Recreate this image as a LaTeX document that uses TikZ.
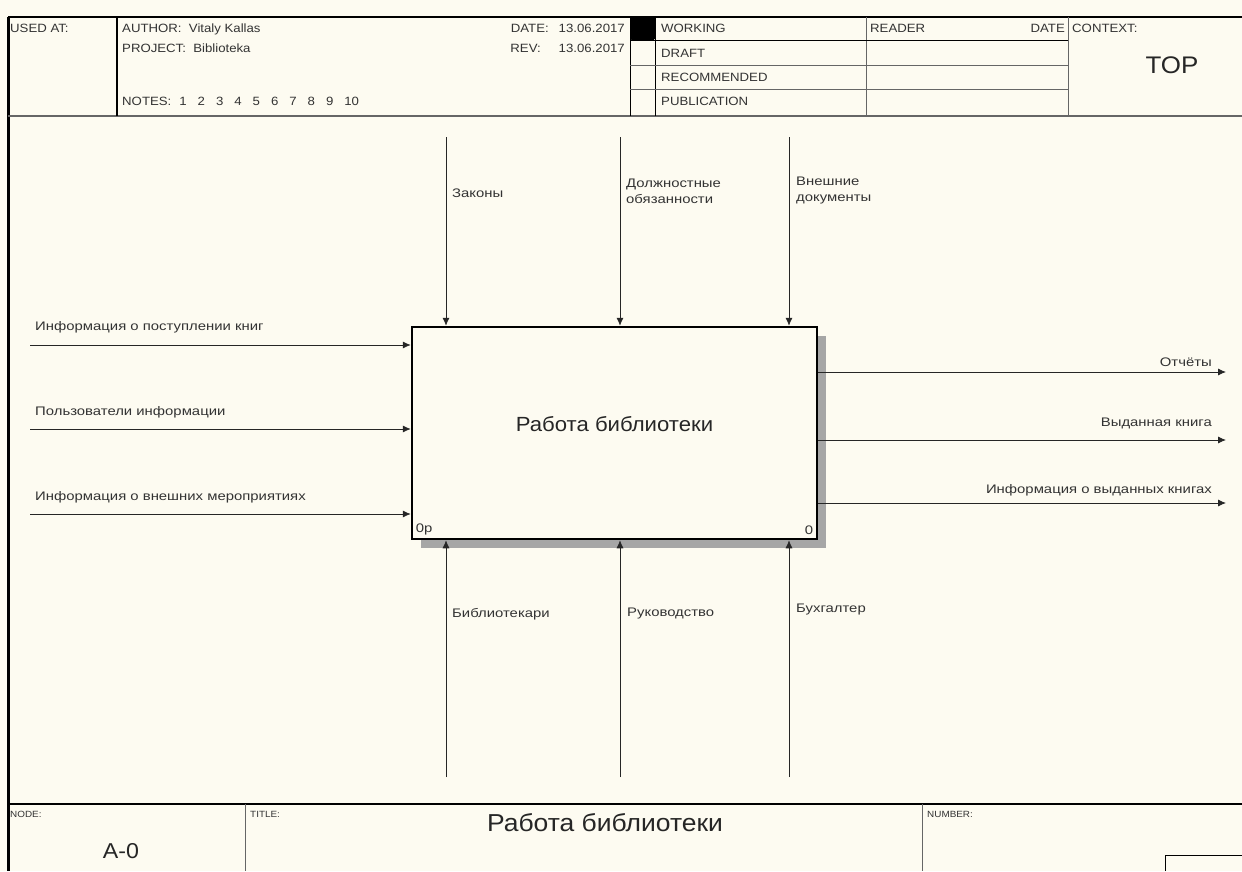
\documentclass[tikz,border=0pt]{standalone}
\usepackage{fontspec}
\setmainfont{Liberation Sans}
\newfontfamily\lblfont[FakeStretch=1.2]{Liberation Sans}
\newfontfamily\hdrfont[FakeStretch=1.1]{Liberation Sans}
\newfontfamily\bigfont[FakeStretch=1.08]{Liberation Sans}
\definecolor{colorPaper}{RGB}{253,251,241}
\colorlet{colorText}{black!80}
\colorlet{colorGrid}{black!60}
\colorlet{colorShadow}{black!35}
\usetikzlibrary{arrows.meta, positioning, shadows}
\tikzset{
  hdr/.style={anchor=base west, inner sep=0pt, text=colorText, font=\hdrfont\fontsize{12}{14}\selectfont},
  hdrright/.style={hdr, anchor=base east},
  small/.style={hdr, font=\hdrfont\fontsize{9}{10}\selectfont},
  big/.style={inner sep=0pt, text=black!85},
  lbl/.style={inner sep=0pt, text=colorText, align=left, font=\lblfont\fontsize{12.4}{16}\selectfont},
  funcbox/.style={draw=black, line width=2.5pt, fill=colorPaper, minimum width=405pt, minimum height=212pt,
    drop shadow={shadow xshift=9pt, shadow yshift=-9pt, opacity=1, fill=colorShadow}},
  arrowline/.style={->, line width=0.8pt, draw=black!85}
}

\begin{document}
\begin{tikzpicture}[x=1pt, y=-1pt, >={Latex[length=8pt, width=7pt]}]
\useasboundingbox[fill=colorPaper] (0,0) rectangle (1242,871);
\draw[line width=3pt] (8,17) -- (8,871);
\draw[line width=1.5pt] (8,17) -- (1242,17);
\draw[line width=1.2pt, colorGrid] (8,116) -- (1242,116);
\draw[line width=1.5pt] (117,17) -- (117,116);
\draw[line width=1pt] (630,17) -- (630,116) (655,17) -- (655,116);
\draw[line width=1pt, colorGrid] (866,17) -- (866,116) (1068,17) -- (1068,116);
\draw[line width=1pt] (630,40) -- (1068,40);
\draw[line width=1pt, colorGrid] (630,65) -- (1068,65) (630,89) -- (1068,89);
\fill[black, rounded corners=1.5pt] (630,17) rectangle (655,40);
\node[hdr] (usedat) at (10,32) {USED AT:};
\node[hdr] (author) at (122,32) {AUTHOR:\ \ Vitaly Kallas};
\node[hdr] (project) at (122,52) {PROJECT:\ \ Biblioteka};
\node[hdr] (notes) at (122,105) {NOTES:\hspace{8pt}1\hspace{11pt}2\hspace{11pt}3\hspace{11pt}4\hspace{11pt}5\hspace{11pt}6\hspace{11pt}7\hspace{11pt}8\hspace{11pt}9\hspace{11pt}10};
\node[hdrright] (date) at (625,32) {DATE:\hspace{10pt}13.06.2017};
\node[hdrright] (rev) at (625,52) {REV:\hspace{18pt}13.06.2017};
\node[hdr] (working) at (661,32) {WORKING};
\node[hdr] (draft) at (661,57) {DRAFT};
\node[hdr] (recommended) at (661,81) {RECOMMENDED};
\node[hdr] (publication) at (661,105) {PUBLICATION};
\node[hdr] (reader) at (870,32) {READER};
\node[hdrright] (readerdate) at (1065,32) {DATE};
\node[hdr] (context) at (1072,32) {CONTEXT:};
\node[big, font=\bigfont\fontsize{24}{26}\selectfont] (top) at (1172,65) {TOP};

\node[funcbox] (a0) at (614.5,433) {};
\node[big, font=\bigfont\fontsize{20.5}{24}\selectfont] (a0title) at ([yshift=9pt]a0.center) {Работа библиотеки};
\node[lbl, anchor=south west] (a0num) at ([shift={(5pt,5pt)}]a0.south west) {0p};
\node[lbl, anchor=south east] (a0nr) at ([shift={(-5pt,5pt)}]a0.south east) {0};

\coordinate (c1) at (446,137);
\coordinate (c2) at (620,137);
\coordinate (c3) at (789,137);
\coordinate (m1) at (446,777);
\coordinate (m2) at (620,777);
\coordinate (m3) at (789,777);
\coordinate (i1) at (30,345);
\coordinate (i2) at (30,429);
\coordinate (i3) at (30,514);
\coordinate (o1) at (1226,372);
\coordinate (o2) at (1226,440);
\coordinate (o3) at (1226,503);

\draw[arrowline] (c1) -- (c1 |- a0.north);
\draw[arrowline] (c2) -- (c2 |- a0.north);
\draw[arrowline] (c3) -- (c3 |- a0.north);
\draw[arrowline] (m1) -- (m1 |- a0.south);
\draw[arrowline] (m2) -- (m2 |- a0.south);
\draw[arrowline] (m3) -- (m3 |- a0.south);
\draw[arrowline] (i1) -- (i1 -| a0.west);
\draw[arrowline] (i2) -- (i2 -| a0.west);
\draw[arrowline] (i3) -- (i3 -| a0.west);
\draw[arrowline] (o1 -| a0.east) -- (o1);
\draw[arrowline] (o2 -| a0.east) -- (o2);
\draw[arrowline] (o3 -| a0.east) -- (o3);

\node[lbl, anchor=west] (lc1) at (452,193) {Законы};
\node[lbl, anchor=west] (lc2) at (626,191) {Должностные\\обязанности};
\node[lbl, anchor=west] (lc3) at (796,191) {Внешние\\документы};
\node[lbl, anchor=west] (lm1) at (452,614) {Библиотекари};
\node[lbl, anchor=west] (lm2) at (627,614) {Руководство};
\node[lbl, anchor=west] (lm3) at (796,610) {Бухгалтер};
\node[lbl, anchor=west] (li1) at (35,327) {Информация о поступлении книг};
\node[lbl, anchor=west] (li2) at (35,412) {Пользователи информации};
\node[lbl, anchor=west] (li3) at (35,497) {Информация о внешних мероприятиях};
\node[lbl, anchor=east] (lo1) at (1212,362) {Отчёты};
\node[lbl, anchor=east] (lo2) at (1212,423) {Выданная книга};
\node[lbl, anchor=east] (lo3) at (1212,490) {Информация о выданных книгах};

\draw[line width=1.5pt] (8,804) -- (1242,804);
\draw[line width=1pt, colorGrid] (245,804) -- (245,871) (922,804) -- (922,871);
\draw[line width=1pt] (1165,871) -- (1165,855) -- (1242,855);
\node[small] (nodelbl) at (10,817) {NODE:};
\node[small] (titlelbl) at (250,817) {TITLE:};
\node[small] (numberlbl) at (927,817) {NUMBER:};
\node[big, font=\bigfont\fontsize{21.5}{24}\selectfont] (nodeno) at (121,851) {A-0};
\node[big, font=\bigfont\fontsize{24.5}{27}\selectfont] (title) at (605,823) {Работа библиотеки};
\end{tikzpicture}
\end{document}
